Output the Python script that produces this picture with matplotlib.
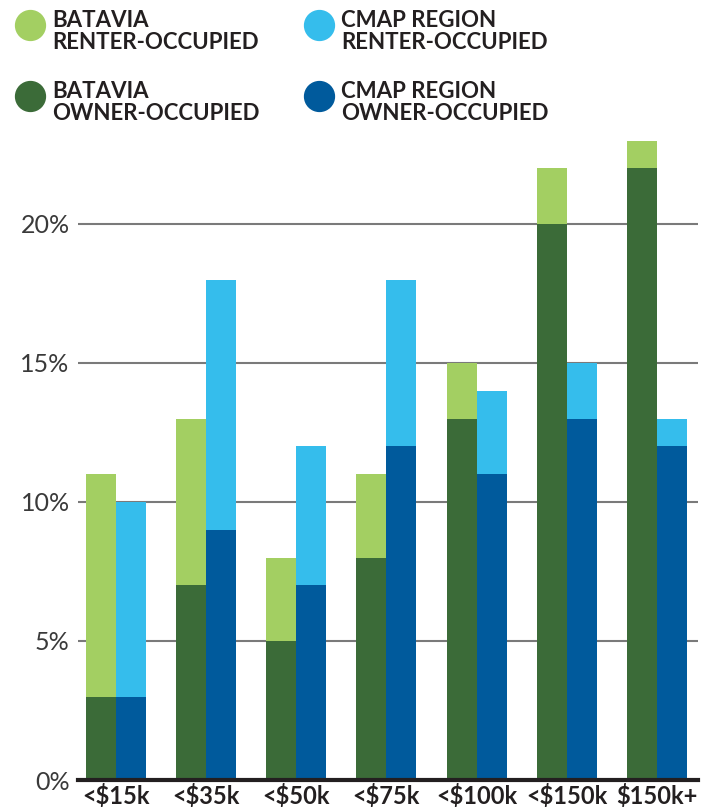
import matplotlib
matplotlib.use('Agg')
import matplotlib.pyplot as plt
from matplotlib.lines import Line2D
import numpy as np

categories = ['<$15k', '<$35k', '<$50k', '<$75k', '<$100k', '<$150k', '$150k+']
batavia_owner = [3, 7, 5, 8, 13, 20, 22]
batavia_renter = [8, 6, 3, 3, 2, 2, 1]
cmap_owner = [3, 9, 7, 12, 11, 13, 12]
cmap_renter = [7, 9, 5, 6, 3, 2, 1]
y_ticks = [0, 5, 10, 15, 20]

c_bat_rent = '#a3cf62'
c_bat_own = '#3b6b38'
c_cmap_rent = '#35bdec'
c_cmap_own = '#005a9c'
txt = '#231f20'

plt.rcParams['font.family'] = ['Lato', 'DejaVu Sans']

fig = plt.figure(figsize=(7.11, 8.08), dpi=100)
ax = fig.add_axes([78 / 711, 1 - 780 / 808, 620 / 711, 645 / 808])

x = np.arange(len(categories))
w = 0.333
ax.bar(x - w / 2, batavia_owner, w, color=c_bat_own, zorder=3)
ax.bar(x - w / 2, batavia_renter, w, bottom=batavia_owner, color=c_bat_rent, zorder=3)
ax.bar(x + w / 2, cmap_owner, w, color=c_cmap_own, zorder=3)
ax.bar(x + w / 2, cmap_renter, w, bottom=cmap_owner, color=c_cmap_rent, zorder=3)

ax.set_xlim(-0.42, 6.455)
ax.set_ylim(0, 23.2)
ax.set_yticks(y_ticks)
ax.set_yticklabels([f'{v}%' for v in y_ticks], fontsize=18, fontweight='normal', color='#3a3a3a')
ax.set_xticks(x)
ax.set_xticklabels(categories, fontsize=17, fontweight='bold', color=txt)
ax.tick_params(axis='y', length=0, pad=6)
ax.tick_params(axis='x', length=0, pad=3)
ax.yaxis.grid(True, color='#7a7a7a', lw=1.5, zorder=1)
ax.set_axisbelow(True)
for s in ax.spines.values():
    s.set_visible(False)
ax.axhline(0, color=txt, lw=3, zorder=4, clip_on=False)

# legend
legend = [
    (30, 25, c_bat_rent, 'BATAVIA\nRENTER-OCCUPIED'),
    (30, 96, c_bat_own, 'BATAVIA\nOWNER-OCCUPIED'),
    (319, 25, c_cmap_rent, 'CMAP REGION\nRENTER-OCCUPIED'),
    (319, 96, c_cmap_own, 'CMAP REGION\nOWNER-OCCUPIED'),
]
for px, py, col, label in legend:
    fig.add_artist(Line2D([px / 711], [1 - py / 808], marker='o', markersize=21.5,
                          color=col, lw=0, transform=fig.transFigure))
    fig.text((px + 22) / 711, 1 - (py - 15) / 808, label, fontsize=16, fontweight='bold',
             color=txt, va='top', ha='left', linespacing=1.05)

fig.savefig('out.png', dpi=100)
